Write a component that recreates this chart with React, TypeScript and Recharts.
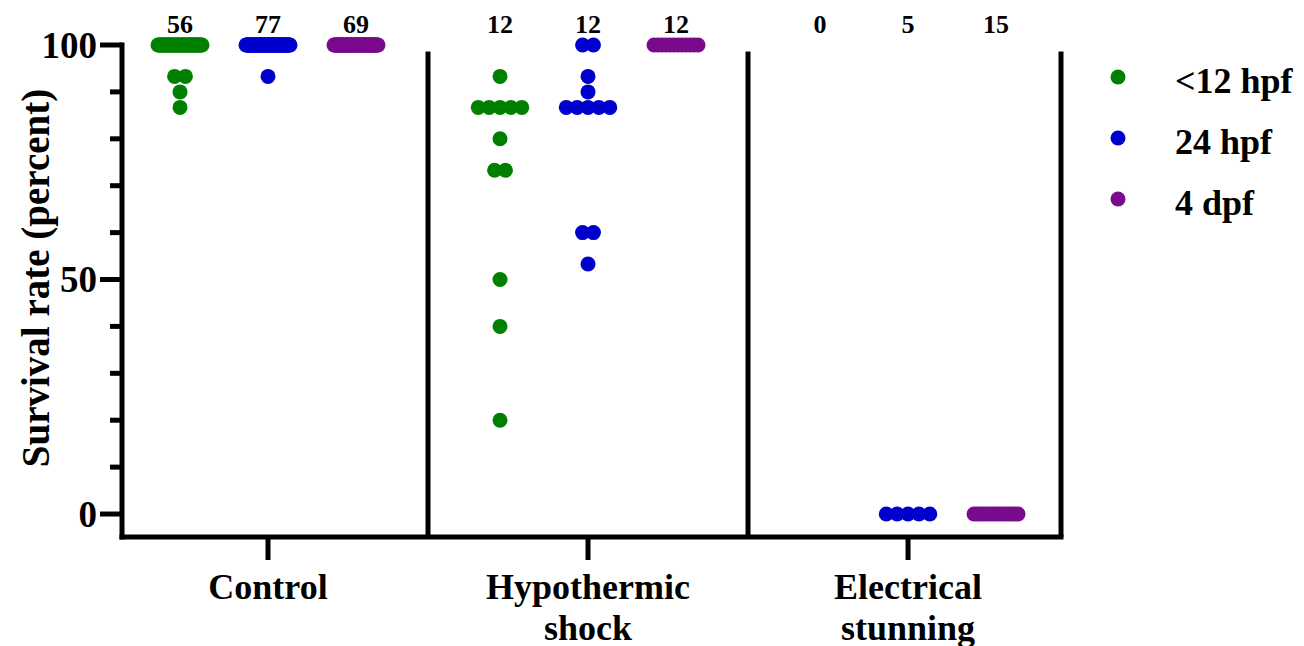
import { ScatterChart, Scatter, XAxis, YAxis, ReferenceLine, Legend, Label } from "recharts";

const categories = ["Control", "Hypothermic shock", "Electrical stunning"];
const stages = ["<12 hpf", "24 hpf", "4 dpf"];
const stageColors = ["#008000", "#0000cc", "#7a0a8c"];

// survival rate (percent) and how many points sit at it, per category
const earlyValues = [
  [{ value: 100, count: 52 }, { value: 93.3, count: 2 }, { value: 90, count: 1 }, { value: 86.7, count: 1 }],
  [
    { value: 93.3, count: 1 },
    { value: 86.7, count: 5 },
    { value: 80, count: 1 },
    { value: 73.3, count: 2 },
    { value: 50, count: 1 },
    { value: 40, count: 1 },
    { value: 20, count: 1 },
  ],
  [],
];
const midValues = [
  [{ value: 100, count: 76 }, { value: 93.3, count: 1 }],
  [
    { value: 100, count: 2 },
    { value: 93.3, count: 1 },
    { value: 90, count: 1 },
    { value: 86.7, count: 5 },
    { value: 60, count: 2 },
    { value: 53.3, count: 1 },
  ],
  [{ value: 0, count: 5 }],
];
const lateValues = [[{ value: 100, count: 69 }], [{ value: 100, count: 12 }], [{ value: 0, count: 15 }]];

// n shown above each column
const nLabels = [
  [56, 77, 69],
  [12, 12, 12],
  [0, 5, 15],
];

const yTicks = [0, 10, 20, 30, 40, 50, 60, 70, 80, 90, 100];
const xDomain = [0.54375, 3.478];
const yDomain = [-4.9, 100];

const FONT = "'Liberation Serif', 'Times New Roman', serif";
const groupOffset = 0.275;
const dotStep = 0.034;
const maxSpread = 0.1375;

// spread equal values sideways like a swarm plot
function swarm(rows: { value: number; count: number }[], center: number) {
  const pts: { x: number; y: number }[] = [];
  rows.forEach(({ value, count }) => {
    const step = count > 1 ? Math.min(dotStep, maxSpread / (count - 1)) : 0;
    for (let j = 0; j < count; j++) {
      pts.push({ x: center + (j - (count - 1) / 2) * step, y: value });
    }
  });
  return pts;
}

const series = [earlyValues, midValues, lateValues].map((byCat, s) =>
  byCat.flatMap((rows, c) => swarm(rows, c + 1 + (s - 1) * groupOffset))
);

const countData = nLabels.flatMap((row, c) =>
  row.map((n, s) => ({ x: c + 1 + (s - 1) * groupOffset, y: 100, n }))
);

const Dot = (p: any) => <circle cx={p.cx} cy={p.cy} r={7.5} fill={p.fill} />;

const CountText = (p: any) => (
  <text x={p.cx} y={p.cy - 12} textAnchor="middle" fontFamily={FONT} fontWeight="bold" fontSize={26} fill="#000">
    {p.payload.n}
  </text>
);

const YTick = (p: any) => {
  const major = p.payload.value % 50 === 0;
  return (
    <g>
      <line x1={p.x - (major ? 22 : 12)} x2={p.x} y1={p.y} y2={p.y} stroke="#000" strokeWidth={5} />
      {major && (
        <text x={p.x - 25} y={p.y} textAnchor="end" dominantBaseline="central" fontFamily={FONT} fontWeight="bold" fontSize={37} fill="#000">
          {p.payload.value}
        </text>
      )}
    </g>
  );
};

const XTick = (p: any) => {
  const lines = categories[p.payload.value - 1].split(" ");
  return (
    <text x={p.x} y={p.y} textAnchor="middle" fontFamily={FONT} fontWeight="bold" fontSize={36} fill="#000">
      {lines.map((l, i) => (
        <tspan key={i} x={p.x} y={p.y + 39 + i * 41}>
          {l}
        </tspan>
      ))}
    </text>
  );
};

const renderLegend = (props: any) => {
  const items = props.payload
    .filter((item: any) => stages.includes(item.value))
    .sort((a: any, b: any) => stages.indexOf(a.value) - stages.indexOf(b.value));
  return (
    <svg width={243} height={290}>
      {items.map((item: any, i: number) => (
        <g key={item.value}>
          <circle cx={57} cy={77 + i * 61} r={7.5} fill={item.color} />
          <text x={114} y={81 + i * 61} dominantBaseline="central" fontFamily={FONT} fontWeight="bold" fontSize={36} fill="#000">
            {item.value}
          </text>
        </g>
      ))}
    </svg>
  );
};

export default function App() {
  return (
    <div style={{ position: "absolute", left: 0, top: 0, background: "#fff" }}>
      <ScatterChart width={1304} height={646} margin={{ top: 45, right: 0, bottom: 9, left: 0 }}>
        <XAxis
          type="number"
          dataKey="x"
          domain={xDomain}
          ticks={[1, 2, 3]}
          interval={0}
          height={100}
          tickSize={23}
          tickMargin={0}
          axisLine={{ stroke: "#000", strokeWidth: 5, strokeLinecap: "square" }}
          tickLine={{ stroke: "#000", strokeWidth: 5 }}
          tick={XTick}
        />
        <YAxis
          type="number"
          dataKey="y"
          domain={yDomain}
          ticks={yTicks}
          interval={0}
          width={122}
          tickSize={0}
          tickMargin={0}
          tickLine={false}
          axisLine={{ stroke: "#000", strokeWidth: 5, strokeLinecap: "square" }}
          tick={YTick}
        >
          <Label
            content={(p: any) => (
              <text
                x={35}
                y={p.viewBox.y + p.viewBox.height / 2 - 13}
                transform={`rotate(-90, 35, ${p.viewBox.y + p.viewBox.height / 2 - 13})`}
                textAnchor="middle"
                dominantBaseline="central"
                fontFamily={FONT}
                fontWeight="bold"
                fontSize={39}
                fill="#000"
              >
                Survival rate (percent)
              </text>
            )}
          />
        </YAxis>
        <ReferenceLine segment={[{ x: 1.5, y: 98.6 }, { x: 1.5, y: yDomain[0] }]} stroke="#000" strokeWidth={5} ifOverflow="visible" />
        <ReferenceLine segment={[{ x: 2.5, y: 98.6 }, { x: 2.5, y: yDomain[0] }]} stroke="#000" strokeWidth={5} ifOverflow="visible" />
        <ReferenceLine
          segment={[{ x: xDomain[1], y: 98.6 }, { x: xDomain[1], y: yDomain[0] }]}
          stroke="#000"
          strokeWidth={5}
          ifOverflow="visible"
        />
        {series.map((data, i) => (
          <Scatter key={stages[i]} name={stages[i]} data={data} fill={stageColors[i]} shape={Dot} isAnimationActive={false} />
        ))}
        <Scatter name="n" data={countData} shape={CountText} legendType="none" isAnimationActive={false} />
        <Legend
          layout="vertical"
          align="right"
          verticalAlign="top"
          width={243}
          height={290}
          wrapperStyle={{ top: 0, right: 0 }}
          content={renderLegend}
        />
      </ScatterChart>
    </div>
  );
}
